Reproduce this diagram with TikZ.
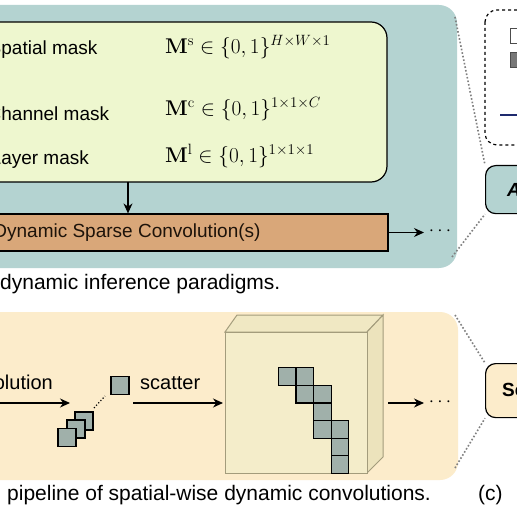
\RequirePackage{fix-cm}
\documentclass[tikz,border=0pt]{standalone}
\usepackage[no-math]{fontspec}
\setmainfont{Liberation Sans}
\usetikzlibrary{arrows.meta}

\definecolor{tealpanel}{HTML}{B4D3D1}
\definecolor{maskgreen}{HTML}{EEF7CF}
\definecolor{convorange}{HTML}{D9A779}
\definecolor{sandpanel}{HTML}{FCECCB}
\definecolor{cubefront}{HTML}{F4EDCA}
\definecolor{cubetop}{HTML}{F0E8C3}
\definecolor{cubeside}{HTML}{ECE3BC}
\definecolor{cubeedge}{HTML}{A39C7C}
\definecolor{cellgray}{HTML}{A0B0AA}
\definecolor{legendgray}{HTML}{777777}
\definecolor{legendnavy}{HTML}{1E2A6E}

\begin{document}
\begin{tikzpicture}[x=1pt,y=-1pt,font=\fontsize{19}{22}\selectfont,
    every node/.style={inner sep=0pt},
    mathlbl/.style={anchor=west,font=\fontsize{21.3}{24}\selectfont},
    caption/.style={anchor=base west,font=\fontsize{21}{24}\selectfont},
    cell/.style={fill=cellgray,draw=black,line width=1.2pt},
    link/.style={draw=gray,dotted,line width=1.6pt},
    flow/.style={-{Stealth[length=10pt,width=9pt]},line width=1.1pt}]
    \useasboundingbox (0,0) rectangle (517,516);
    \fill[white] (0,0) rectangle (517,516);
    \clip (0,0) rectangle (517,516);

    % (a) panel
    \fill[tealpanel,rounded corners=18pt] (-30,5) rectangle (457,268);
    \draw[fill=maskgreen,line width=1.2pt,rounded corners=16pt] (-30,22) rectangle (387,182);
    \node[anchor=west] (spatial) at (-11.5,50) {Spatial mask};
    \node[anchor=west] (channel) at (-12.5,114) {Channel mask};
    \node[anchor=west] (layer) at (-9.5,160) {Layer mask};
    \node[mathlbl] (ms) at (165,47) {$\mathbf{M}^{\mathrm{s}}\in\{0,1\}^{H\times W\times 1}$};
    \node[mathlbl] (mc) at (165,109) {$\mathbf{M}^{\mathrm{c}}\in\{0,1\}^{1\times 1\times C}$};
    \node[mathlbl] (ml) at (165,156) {$\mathbf{M}^{\mathrm{l}}\in\{0,1\}^{1\times 1\times 1}$};
    \coordinate (maskbot) at (128,182);
    \node[draw,fill=convorange,line width=1.2pt,minimum width=522pt,minimum height=37pt,
          text=black!85!brown] (conv) at (127,232.5) {Dynamic Sparse Convolution(s)};
    \node (dotsa) at (440,231) {$\cdots$};
    \draw[flow] (maskbot) -- (maskbot |- conv.north);
    \draw[flow] (conv.east) -- (424,232.5);
    \node[caption] (capa) at (0,289) {dynamic inference paradigms.};

    % (b) panel
    \fill[sandpanel,rounded corners=18pt] (-30,312) rectangle (458,480);
    \node[anchor=base east,font=\fontsize{20}{24}\selectfont] (convlbl) at (53,389) {convolution};
    \coordinate (inleft) at (-10,403);
    \coordinate (stackin) at (70,403);
    \draw[flow] (inleft) -- (stackin);
    \node[cell,minimum size=18pt] (sq3) at (84,421) {};
    \node[cell,minimum size=18pt] (sq2) at (76,429) {};
    \node[cell,minimum size=18pt] (sq1) at (67,437.5) {};
    \node[cell,minimum size=18pt] (single) at (120,385.5) {};
    \draw[dotted,line width=1.2pt] (94,408) -- (105,396);
    \node[anchor=base west,font=\fontsize{20}{24}\selectfont] (scatter) at (140,389) {scatter};
    \coordinate (scatout) at (133,403);
    \coordinate (cubein) at (223,403);
    \draw[flow] (scatout) -- (cubein);
    \filldraw[fill=cubetop,draw=cubeedge,line width=1pt] (225,332) -- (237,315) -- (383,315) -- (367,332) -- cycle;
    \filldraw[fill=cubeside,draw=cubeedge,line width=1pt] (367,332) -- (383,315) -- (383,457) -- (367,473) -- cycle;
    \filldraw[fill=cubefront,draw=cubeedge,line width=1pt] (225,332) rectangle (367,473);
    \foreach \c/\r in {0/0,1/0,1/1,2/1,2/2,2/3,3/3,3/4,3/5}
      \draw[cell] ({278.3+17.6*\c},{367.7+17.6*\r}) rectangle ++(17.6,17.6);
    \coordinate (cubeout) at (388,403);
    \node (dotsb) at (440,402) {$\cdots$};
    \draw[flow] (cubeout) -- (424,403);
    \node[caption] (capb) at (7,500) {pipeline of spatial-wise dynamic convolutions.};

    % (c) side
    \draw[dashed,line width=1.2pt,rounded corners=12pt] (485,10) rectangle (560,145);
    \draw[fill=white,draw=black!70] (510,28) rectangle (524,43);
    \draw[fill=legendgray,draw=black!70] (510,52) rectangle (524,67);
    \draw[legendnavy,line width=2pt] (500,115) -- (530,115);
    \node[draw,fill=tealpanel,line width=1.2pt,rounded corners=10pt,minimum width=75pt,
          minimum height=48pt,anchor=north west] (boxa) at (485,165) {};
    \node[anchor=west] (lbla) at (507,190) {\textbf{\textit{A}}};
    \node[draw,fill=sandpanel,line width=1.2pt,rounded corners=10pt,minimum width=75pt,
          minimum height=54pt,anchor=north west] (boxs) at (485,363) {};
    \node[anchor=west] (lbls) at (502,390) {\textbf{Se}};
    \node[caption] (capc) at (478,500) {(c)};
    \draw[link] (455,17) -- (boxa.north west);
    \draw[link] (452,257) -- (boxa.south west);
    \draw[link] (455,315) -- (boxs.north west);
    \draw[link] (455,468) -- (boxs.south west);
\end{tikzpicture}
\end{document}
